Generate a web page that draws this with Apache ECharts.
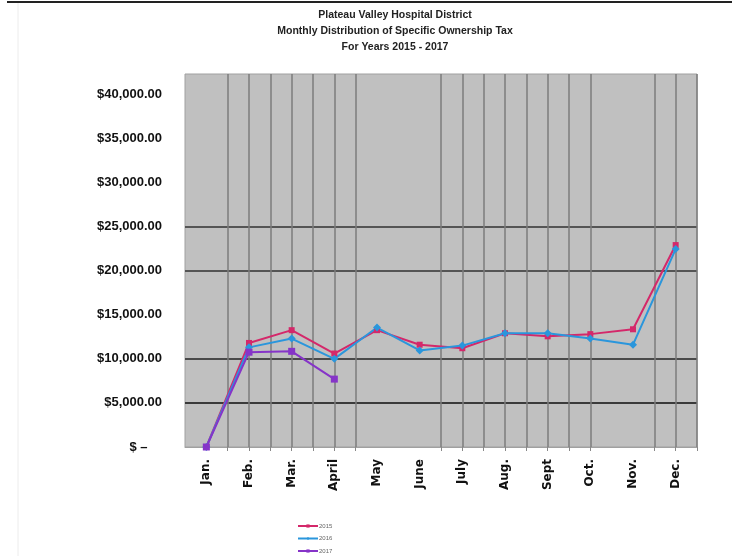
<!DOCTYPE html>
<html>
<head>
<meta charset="utf-8">
<script src="https://cdn.jsdelivr.net/npm/echarts@6/dist/echarts.min.js"></script>
<style>
html, body { margin: 0; padding: 0; background: #fff; }
#chart { width: 732px; height: 556px; }
</style>
</head>
<body>
<div id="chart"></div>
<script>
// 月份
const months = ['Jan.', 'Feb.', 'Mar.', 'April', 'May', 'June', 'July', 'Aug.', 'Sept', 'Oct.', 'Nov.', 'Dec.']
// 年份（图例）
const years = ['2015', '2016', '2017']
// 各年每月税额
const tax2015 = [0, 11800, 13250, 10600, 13250, 11600, 11200, 12900, 12550, 12800, 13350, 22900]
const tax2016 = [0, 11300, 12300, 10000, 13550, 10950, 11500, 12900, 12900, 12300, 11600, 22450]
const tax2017 = [0, 10750, 10850, 7700]
// y轴刻度
const yMin = 0
const yMax = 42300
const yStep = 5000

// 半个月一格的辅助轴，用来画竖线
const halfSteps = months.flatMap(m => [m + '|', '|' + m])
const hiddenLines = [0, 1, 9, 10, 11, 20, 21]
const showLine = index => !hiddenLines.includes(index)

const chart = echarts.init(document.getElementById('chart'))

chart.setOption({
    animation: false,
    title: {
        text: 'Plateau Valley Hospital District\nMonthly Distribution of Specific Ownership Tax\nFor Years 2015 - 2017',
        left: 390,
        top: 2,
        textAlign: 'center',
        textStyle: {
            fontFamily: 'Liberation Sans',
            fontWeight: 'bold',
            fontSize: 10.5,
            lineHeight: 16,
            color: '#222'
        }
    },
    legend: {
        data: years,
        orient: 'vertical',
        left: 297,
        top: 523,
        padding: 0,
        itemWidth: 20,
        itemHeight: 4,
        itemGap: 6.5,
        textStyle: { fontSize: 6, color: '#666', padding: [0, 0, 0, -4] }
    },
    grid: {
        left: 185,
        right: 35,
        top: 74,
        bottom: 109,
        show: true,
        backgroundColor: '#c0c0c0',
        borderColor: '#a0a0a0',
        borderWidth: 1
    },
    xAxis: [
        {
            type: 'category',
            position: 'bottom',
            data: months,
            boundaryGap: true,
            axisLine: { show: false },
            axisTick: { show: false },
            splitLine: { show: false },
            axisLabel: {
                rotate: 90,
                margin: 12,
                interval: 0,
                fontFamily: 'DejaVu Sans',
                fontWeight: 'bold',
                fontSize: 12,
                color: '#111'
            }
        },
        {
            type: 'category',
            position: 'bottom',
            data: halfSteps,
            boundaryGap: true,
            axisLine: { show: true, lineStyle: { color: '#a0a0a0', width: 1 } },
            axisLabel: { show: false },
            axisTick: {
                show: true,
                length: 4,
                interval: showLine,
                lineStyle: { color: '#888', width: 1 }
            },
            splitLine: {
                show: true,
                interval: showLine,
                lineStyle: { color: '#7c7c7c', width: 1.5 }
            }
        }
    ],
    yAxis: {
        type: 'value',
        min: yMin,
        max: yMax,
        interval: yStep,
        axisLine: { show: false },
        axisTick: { show: false },
        axisLabel: {
            margin: 23,
            showMaxLabel: false,
            fontFamily: 'Liberation Sans',
            fontWeight: 'bold',
            fontSize: 13,
            color: '#111',
            formatter: v => v === 0 ? '$ \u2013    ' : '$' + v.toLocaleString('en-US', { minimumFractionDigits: 2 })
        },
        splitLine: {
            show: true,
            lineStyle: {
                width: 2,
                color: ['rgba(0,0,0,0)', '#3a3a3a', '#4a4a4a', 'rgba(0,0,0,0)', '#555', '#555',
                    'rgba(0,0,0,0)', 'rgba(0,0,0,0)', 'rgba(0,0,0,0)', 'rgba(0,0,0,0)']
            }
        }
    },
    graphic: [
        { type: 'line', shape: { x1: 7, y1: 2, x2: 732, y2: 2 }, style: { stroke: '#222', lineWidth: 2 } },
        { type: 'line', shape: { x1: 18, y1: 3, x2: 18, y2: 556 }, style: { stroke: '#ececec', lineWidth: 1 } }
    ],
    series: [
        {
            name: years[0],
            type: 'line',
            data: tax2015,
            color: '#d4286a',
            symbol: 'rect',
            symbolSize: 6,
            lineStyle: { width: 2 }
        },
        {
            name: years[1],
            type: 'line',
            data: tax2016,
            color: '#2a96dc',
            symbol: 'diamond',
            symbolSize: 8,
            lineStyle: { width: 2 }
        },
        {
            name: years[2],
            type: 'line',
            data: tax2017,
            color: '#8634c8',
            symbol: 'rect',
            symbolSize: 7,
            lineStyle: { width: 2 }
        }
    ]
})
</script>
</body>
</html>
